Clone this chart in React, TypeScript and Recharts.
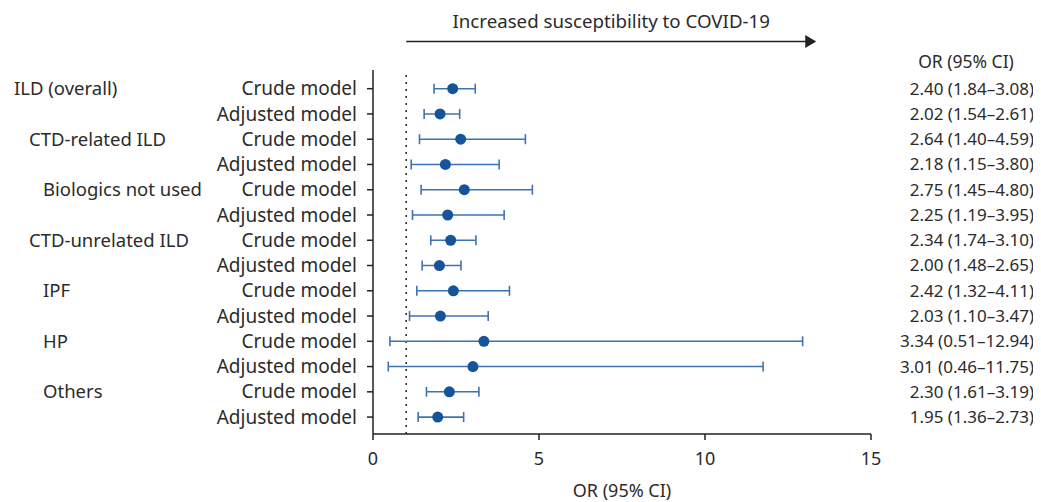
import {
  ScatterChart,
  Scatter,
  XAxis,
  YAxis,
  ErrorBar,
  ReferenceLine,
  Label,
} from "recharts";

const groups = [
  "ILD (overall)", "",
  "CTD-related ILD", "",
  "Biologics not used", "",
  "CTD-unrelated ILD", "",
  "IPF", "",
  "HP", "",
  "Others", "",
];

const models = [
  "Crude model", "Adjusted model",
  "Crude model", "Adjusted model",
  "Crude model", "Adjusted model",
  "Crude model", "Adjusted model",
  "Crude model", "Adjusted model",
  "Crude model", "Adjusted model",
  "Crude model", "Adjusted model",
];

const oddsRatios = [2.40, 2.02, 2.64, 2.18, 2.75, 2.25, 2.34, 2.00, 2.42, 2.03, 3.34, 3.01, 2.30, 1.95];
const lowerCI = [1.84, 1.54, 1.40, 1.15, 1.45, 1.19, 1.74, 1.48, 1.32, 1.10, 0.51, 0.46, 1.61, 1.36];
const upperCI = [3.08, 2.61, 4.59, 3.80, 4.80, 3.95, 3.10, 2.65, 4.11, 3.47, 12.94, 11.75, 3.19, 2.73];

const xTicks = [0, 5, 10, 15];

// indent of the group names on the far left (svg x)
const GROUP_X: Record<string, number> = {
  "ILD (overall)": 6,
  "CTD-related ILD": 21,
  "Biologics not used": 35,
  "CTD-unrelated ILD": 21,
  IPF: 35,
  HP: 35,
  Others: 35,
};
const VALUE_X = 1026;

const TEXT = "#2b2b2b";
const AXIS = "#222";
const DOT = "#15539a";
const BAR = "#3d72b4";
const FONT = "'Noto Sans', sans-serif";

const rows = oddsRatios.map((or, i) => ({
  row: i,
  or,
  err: [or - lowerCI[i], upperCI[i] - or],
}));
const rowTicks = rows.map((r) => r.row);
const Y_DOMAIN: [number, number] = [-0.74, 13.67];

const fmt = (i: number) =>
  `${oddsRatios[i].toFixed(2)} (${lowerCI[i].toFixed(2)}–${upperCI[i].toFixed(2)})`;

const RowTick = (props: any) => {
  const { x, y, payload } = props;
  const i = payload.value as number;
  const group = groups[i];
  return (
    <g fontFamily={FONT} fill={TEXT}>
      {group && (
        <text x={GROUP_X[group]} y={y} dy="0.35em" textAnchor="start" fontSize={18.5}>
          {group}
        </text>
      )}
      <text x={x} y={y} dy="0.35em" textAnchor="end" fontSize={19}>
        {models[i]}
      </text>
      <text x={VALUE_X} y={y} dy="0.35em" textAnchor="end" fontSize={17}>
        {fmt(i)}
      </text>
    </g>
  );
};

const Arrow = (props: any) => {
  const { x1, y1, x2, y2 } = props;
  return (
    <g>
      <line x1={x1} y1={y1} x2={x2 - 8} y2={y2} stroke={AXIS} strokeWidth={1.5} />
      <polygon points={`${x2 - 11},${y2 - 6.5} ${x2},${y2} ${x2 - 11},${y2 + 6.5}`} fill={AXIS} />
    </g>
  );
};

const Dot = (props: any) => <circle cx={props.cx} cy={props.cy} r={5.5} fill={DOT} />;

export default function App() {
  return (
    <div style={{ width: 1033, height: 494 }}>
      <ScatterChart
        width={1033}
        height={494}
        margin={{ top: 62, right: 0, bottom: 0, left: 0 }}
        style={{ fontFamily: FONT }}
      >
        <XAxis
          type="number"
          dataKey="or"
          domain={[0, 15]}
          ticks={xTicks}
          height={68}
          tickSize={6}
          tickMargin={12}
          stroke={AXIS}
          strokeWidth={1.5}
          tick={{ fill: TEXT, fontSize: 18 }}
        >
          <Label value="OR (95% CI)" position="insideBottom" offset={5} fill={TEXT} fontSize={18} />
        </XAxis>
        <YAxis
          type="number"
          dataKey="row"
          domain={Y_DOMAIN}
          reversed
          ticks={rowTicks}
          interval={0}
          width={365}
          tickSize={6}
          tickMargin={10}
          stroke={AXIS}
          strokeWidth={1.5}
          tick={<RowTick />}
        />
        <YAxis
          yAxisId="right"
          orientation="right"
          type="number"
          domain={Y_DOMAIN}
          reversed
          width={170}
          axisLine={false}
          tickLine={false}
          tick={false}
        >
          <Label
            content={(p: any) => (
              <text
                x={p.viewBox.x + 95}
                y={p.viewBox.y - 8}
                dy="0.35em"
                textAnchor="middle"
                fontFamily={FONT}
                fontSize={17.5}
                fill={TEXT}
              >
                OR (95% CI)
              </text>
            )}
          />
        </YAxis>
        <ReferenceLine x={1} stroke={AXIS} strokeWidth={1.5} strokeDasharray="2 5" />
        <ReferenceLine
          segment={[
            { x: 1, y: -1.87 },
            { x: 13.35, y: -1.87 },
          ]}
          ifOverflow="visible"
          shape={<Arrow />}
        >
          <Label
            content={(p: any) => {
              const vb = p.viewBox || {};
              const cx = (vb.x ?? 0) + (vb.width ?? 0) / 2;
              return (
                <text x={cx} y={(vb.y ?? 0) - 20} dy="0.35em" textAnchor="middle" fontFamily={FONT} fontSize={18.7} fill={TEXT}>
                  Increased susceptibility to COVID-19
                </text>
              );
            }}
          />
        </ReferenceLine>
        <Scatter data={rows} shape={<Dot />} isAnimationActive={false}>
          <ErrorBar dataKey="err" direction="x" width={5} stroke={BAR} strokeWidth={1.6} />
        </Scatter>
      </ScatterChart>
    </div>
  );
}
